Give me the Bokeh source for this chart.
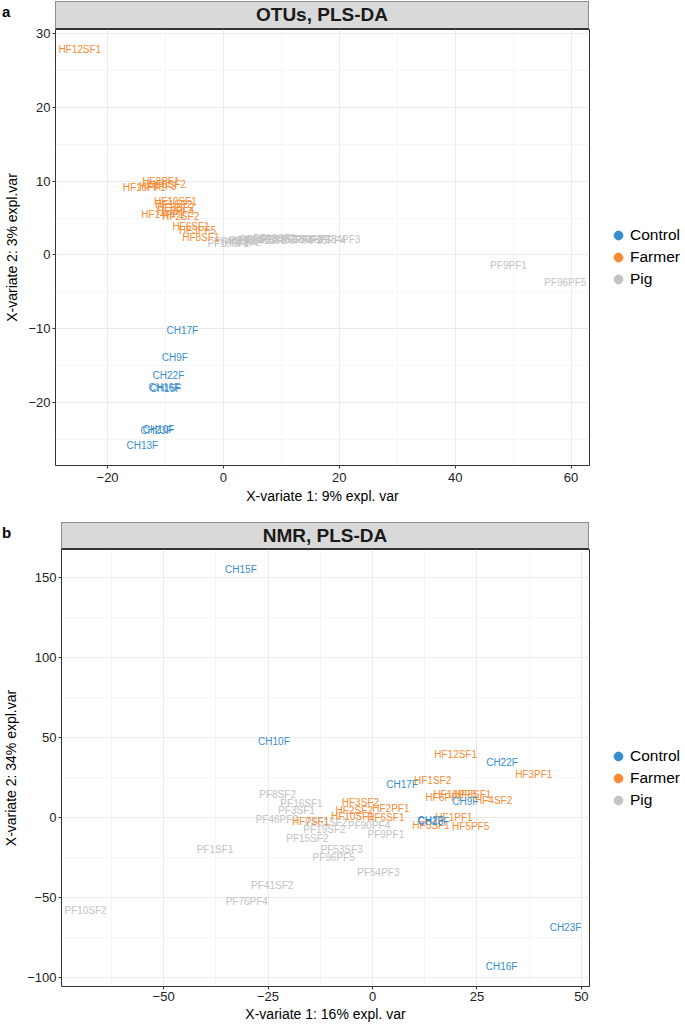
from bokeh.plotting import figure
from bokeh.models import Div, Range1d, FixedTicker, Legend, LegendItem, ColumnDataSource
from bokeh.layouts import column, row
from bokeh.core.properties import value
from bokeh.embed import file_html
from bokeh.resources import INLINE

FONT = "Liberation Sans"
GROUPS = ["Control", "Farmer", "Pig"]
COLORS = {"Control": "#388ECC", "Farmer": "#F68B33", "Pig": "#C2C2C2"}

# ---------------- Panel a: OTUs, PLS-DA ----------------
otu_control_labels = ["CH17F", "CH9F", "CH22F", "CH16F", "CH15F", "CH23F", "CH10F", "CH13F"]
otu_control_x = [-7.1, -8.4, -9.5, -10.2, -10.0, -11.6, -11.2, -14.0]
otu_control_y = [-10.3, -13.9, -16.4, -18.0, -18.2, -23.8, -23.7, -25.9]

otu_farmer_labels = ["HF12SF1", "HF2PF1", "HF16PF1", "HF5SF2", "HF6PF3", "HF10SF1", "HF1SF2",
                     "HF3SF2", "HF8PF4", "HF14PF1", "HF2SF2", "HF6SF1", "HF3PF5", "HF8SF1"]
otu_farmer_x = [-24.8, -10.8, -13.7, -9.7, -11.3, -8.3, -8.6, -8.2, -8.3, -10.5, -7.4, -5.6, -4.5, -3.9]
otu_farmer_y = [27.9, 10.0, 9.1, 9.6, 9.3, 7.2, 6.8, 6.4, 5.9, 5.5, 5.2, 3.9, 3.3, 2.4]

otu_pig_labels = ["PF16SF2", "PF46PF2", "PF8SF2", "PF15SF2", "PF3SF1", "PF41SF2", "PF19SF2",
                  "PF53SF3", "PF76PF4", "PF10SF2", "PF1SF1", "PF90PF4", "PF54PF3", "PF9PF1", "PF96PF5"]
otu_pig_x = [0.9, 2.0, 3.3, 4.6, 6.0, 7.4, 8.8, 10.2, 11.8, 13.5, 15.5, 17.5, 20.0, 49.2, 59.0]
otu_pig_y = [1.6, 1.8, 1.7, 2.0, 2.1, 1.9, 2.2, 2.1, 2.0, 2.1, 2.1, 2.0, 2.1, -1.4, -3.7]

# ---------------- Panel b: NMR, PLS-DA ----------------
nmr_control_labels = ["CH15F", "CH10F", "CH22F", "CH17F", "CH9F", "CH13F", "CH2F", "CH23F", "CH16F"]
nmr_control_x = [-31.5, -23.6, 31.0, 7.1, 22.2, 14.6, 13.9, 46.2, 30.9]
nmr_control_y = [155.0, 47.7, 34.4, 20.6, 10.2, -2.3, -1.9, -68.5, -93.2]

nmr_farmer_labels = ["HF12SF1", "HF3PF1", "HF1SF2", "HF6PF1", "HF10PF3", "HF8SF1", "HF4SF2", "HF3SF2",
                     "HF2PF1", "HF2SF2", "HF10SF1", "HF6SF1", "HF7SF1", "HF1PF1", "HF5SF1", "HF5PF5"]
nmr_farmer_x = [19.9, 38.6, 14.4, 17.1, 19.7, 24.0, 29.0, -2.9, 4.4, -4.4, -4.8, 3.2, -14.8, 19.5, 14.0, 23.5]
nmr_farmer_y = [39.6, 27.1, 22.9, 12.5, 14.4, 14.4, 10.8, 9.1, 5.6, 4.6, 0.8, -0.3, -2.3, 0.0, -4.8, -5.4]

nmr_pig_labels = ["PF8SF2", "PF16SF1", "PF3SF1", "PF46PF2", "PF51SF2", "PF19SF2", "PF90PF4", "PF15SF2",
                  "PF9PF1", "PF1SF1", "PF53SF3", "PF96PF5", "PF54PF3", "PF41SF2", "PF76PF4", "PF10SF2"]
nmr_pig_x = [-22.7, -17.0, -18.2, -22.9, -11.1, -11.5, -0.8, -15.6, 3.2, -37.7, -7.4, -9.3, 1.4, -24.0, -30.1, -68.7]
nmr_pig_y = [14.4, 8.8, 4.6, -1.1, -3.4, -7.7, -5.3, -13.1, -10.9, -20.2, -20.0, -24.8, -34.2, -42.4, -52.4, -57.9]

# ticks
otu_xticks = [-20, 0, 20, 40, 60]
otu_xminor = [-30, -10, 10, 30, 50, 70]
otu_yticks = [-20, -10, 0, 10, 20, 30]
otu_yminor = [-25, -15, -5, 5, 15, 25]
nmr_xticks = [-50, -25, 0, 25, 50]
nmr_xminor = [-62.5, -37.5, -12.5, 12.5, 37.5]
nmr_yticks = [-100, -50, 0, 50, 100, 150]
nmr_yminor = [-75, -25, 25, 75, 125]

W = 685
MAIN_W = 590          # main figure width, frame right edge at 589
LEG_W = W - MAIN_W    # legend figure width
TOP = 9               # canvas space above the frame (lies under the strip)


def expanded(vals, frac=0.05):
    lo, hi = min(vals), max(vals)
    pad = (hi - lo) * frac
    return lo - pad, hi + pad


def strip(letter, title, left, width, height, box_top, letter_top):
    box_h = height - box_top
    html = (
        f'<div style="position:relative;width:{W}px;height:{height}px;">'
        f'<div style="position:absolute;left:2px;top:{letter_top}px;font-family:\'{FONT}\';font-weight:bold;'
        f'font-size:15px;line-height:17px;color:#000;">{letter}</div>'
        f'<div style="position:absolute;left:{left}px;top:{box_top}px;width:{width}px;height:{box_h}px;'
        f'box-sizing:border-box;background:#D9D9D9;border:1px solid #8C8C8C;border-bottom:1px solid #333333;'
        f'display:flex;align-items:center;justify-content:center;'
        f'font-family:\'{FONT}\';font-weight:bold;font-size:19px;'
        f'color:#1A1A1A;white-space:nowrap;">{title}</div></div>'
    )
    return Div(text=html, width=W, height=height, margin=(0, 0, -TOP, 0))


def panel(series, xlab, ylab, xt, xm, yt, ym, frame_h, left, bottom, legend_y, lab_so, title_so):
    allx = [v for s in series for v in s[1]]
    ally = [v for s in series for v in s[2]]
    x0, x1 = expanded(allx)
    y0, y1 = expanded(ally)
    height = TOP + frame_h + bottom
    p = figure(width=MAIN_W, height=height, output_backend="svg", toolbar_location=None,
               x_range=Range1d(x0, x1), y_range=Range1d(y0, y1),
               min_border_left=left, min_border_right=1, min_border_top=TOP,
               min_border_bottom=bottom)
    p.background_fill_color = "white"
    p.border_fill_alpha = 0
    p.outline_line_color = "#333333"
    p.outline_line_width = 1

    p.xaxis.ticker = FixedTicker(ticks=xt, minor_ticks=xm)
    p.yaxis.ticker = FixedTicker(ticks=yt, minor_ticks=ym)
    for ax in (p.xaxis, p.yaxis):
        ax.axis_line_color = None
        ax.major_tick_line_color = "#333333"
        ax.major_tick_out = 3
        ax.major_tick_in = 0
        ax.minor_tick_out = 0
        ax.minor_tick_in = 0
        ax.major_label_text_font = FONT
        ax.major_label_text_font_size = "13px"
        ax.major_label_text_color = "#222222"
        ax.axis_label_text_font = FONT
        ax.axis_label_text_font_size = "14px"
        ax.axis_label_text_font_style = "normal"
        ax.axis_label_text_color = "#000000"
    p.xaxis.axis_label = xlab
    p.yaxis.axis_label = ylab
    p.xaxis.major_label_standoff = lab_so
    p.xaxis.axis_label_standoff = title_so
    p.yaxis.major_label_standoff = 2
    p.yaxis.axis_label_standoff = 5

    for g in (p.xgrid, p.ygrid):
        g.grid_line_color = "#EBEBEB"
        g.grid_line_width = 1.1
        g.minor_grid_line_color = "#F0F0F0"
        g.minor_grid_line_width = 0.6

    for name, xs, ys, labs in series:
        src = ColumnDataSource(dict(x=xs, y=ys, t=labs))
        p.text(x="x", y="y", text="t", source=src, text_align="center", text_baseline="middle",
               text_font=value(FONT), text_font_size="10px", text_color=COLORS[name])

    # legend lives in its own narrow figure to the right of the panel
    lf = figure(width=LEG_W, height=height, output_backend="svg", toolbar_location=None,
                x_range=Range1d(0, 1), y_range=Range1d(0, 1),
                x_axis_location=None, y_axis_location=None,
                min_border_left=0, min_border_right=0, min_border_top=0, min_border_bottom=0)
    lf.grid.visible = False
    lf.outline_line_color = None
    lf.background_fill_alpha = 0
    lf.border_fill_alpha = 0
    items = []
    for g in GROUPS:
        r = lf.scatter(x=[float("nan")], y=[float("nan")], marker="circle", size=10,
                       fill_color=COLORS[g], line_color=COLORS[g])
        items.append(LegendItem(label=g, renderers=[r]))
    leg = Legend(items=items, location=(16, legend_y),
                 border_line_color=None, background_fill_alpha=0,
                 label_text_font=FONT, label_text_font_size="15.5px", label_text_color="#000000",
                 glyph_width=24, glyph_height=22, label_height=22, spacing=0,
                 padding=0, margin=0, label_standoff=0)
    lf.add_layout(leg)
    return row(p, lf, spacing=0)


pa = panel(
    [("Pig", otu_pig_x, otu_pig_y, otu_pig_labels),
     ("Farmer", otu_farmer_x, otu_farmer_y, otu_farmer_labels),
     ("Control", otu_control_x, otu_control_y, otu_control_labels)],
    "X-variate 1: 9% expl. var", "X-variate 2: 3% expl.var",
    otu_xticks, otu_xminor, otu_yticks, otu_yminor,
    frame_h=436, left=55, bottom=57, legend_y=175, lab_so=4, title_so=3)

pb = panel(
    [("Pig", nmr_pig_x, nmr_pig_y, nmr_pig_labels),
     ("Farmer", nmr_farmer_x, nmr_farmer_y, nmr_farmer_labels),
     ("Control", nmr_control_x, nmr_control_y, nmr_control_labels)],
    "X-variate 1: 16% expl. var", "X-variate 2: 34% expl.var",
    nmr_xticks, nmr_xminor, nmr_yticks, nmr_yminor,
    frame_h=437, left=61, bottom=40, legend_y=175, lab_so=2, title_so=2)

layout = column(strip("a", "OTUs, PLS-DA", 55, 534, 29, 1, 3), pa,
                strip("b", "NMR, PLS-DA", 61, 528, 27, 0, 2), pb, spacing=0)

open("out.html", "w").write(file_html(layout, INLINE))
